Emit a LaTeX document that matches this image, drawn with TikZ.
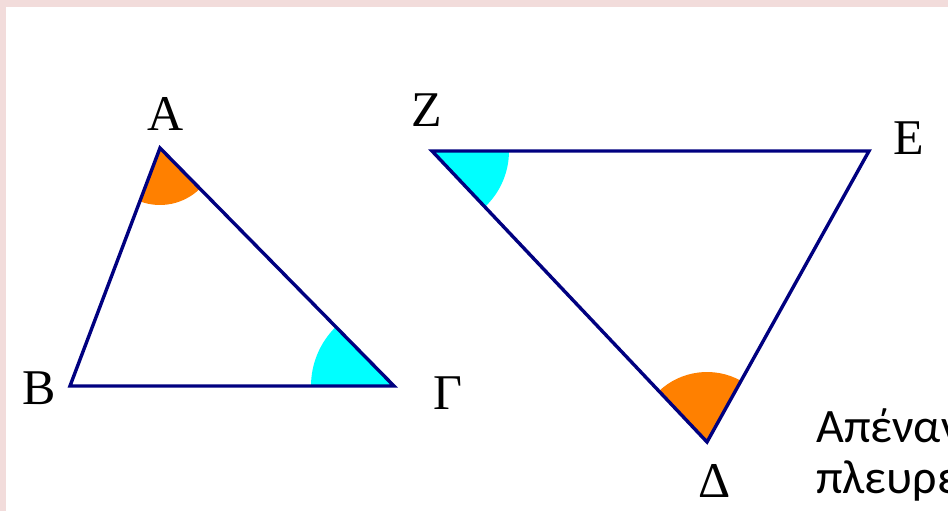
\documentclass[tikz,border=0pt]{standalone}
\usepackage{fontspec}
\setmainfont{Liberation Serif}
\newfontfamily\grtext{Carlito}
\usetikzlibrary{angles}
\definecolor{bordpink}{HTML}{F2DCDB}
\definecolor{navyline}{HTML}{000080}
\definecolor{angorange}{HTML}{FF8000}
\definecolor{angcyan}{HTML}{00FFFF}
\tikzset{
  tri/.style={draw=navyline, line width=3.4pt, line join=miter},
  vlabel/.style={anchor=base, inner sep=0pt, font=\fontsize{50}{56}\selectfont},
  gline/.style={anchor=base west, inner sep=0pt, font=\grtext\fontsize{48}{56}\selectfont},
}
\begin{document}
\begin{tikzpicture}[x=1pt,y=1pt]
\useasboundingbox (0,0) rectangle (948,511);
\clip (0,0) rectangle (948,511);
\fill[bordpink] (0,0) rectangle (948,511);
\fill[white] (6,-5) rectangle (960,504);
% vertices
\coordinate (A) at (160,363);
\coordinate (B) at (70,125);
\coordinate (G) at (394,125);
\coordinate (Z) at (432,360);
\coordinate (E) at (869,360);
\coordinate (D) at (707,69);
% angle fills
\pic[fill=angorange, angle radius=57pt] {angle = B--A--G};
\pic[fill=angcyan, angle radius=83pt] {angle = A--G--B};
\pic[fill=angcyan, angle radius=77pt] {angle = D--Z--E};
\pic[fill=angorange, angle radius=70pt] {angle = E--D--Z};
% triangles
\draw[tri] (A) -- (B) -- (G) -- cycle;
\draw[tri] (Z) -- (E) -- (D) -- cycle;
% labels
\node[vlabel] (lA) at (166,380) {Α};
\node[vlabel] (lB) at (39,106) {Β};
\node[vlabel] (lG) at (448,101) {Γ};
\node[vlabel] (lZ) at (427,384) {Ζ};
\node[vlabel] (lE) at (909,356) {Ε};
\node[vlabel] (lD) at (715,13) {Δ};
% text
\node[gline] (t1) at (816,68) {Απέναντι};
\node[gline] (t2) at (816,17) {πλευρές};
\end{tikzpicture}
\end{document}
